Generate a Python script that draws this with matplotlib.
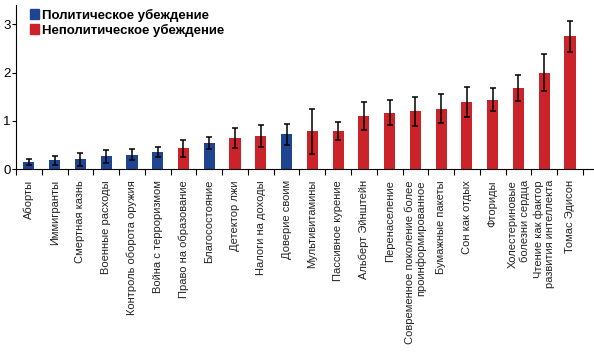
import numpy as np
import matplotlib
matplotlib.use("Agg")
import matplotlib.pyplot as plt
from matplotlib.patches import Patch

plt.rcParams['font.family'] = ['Liberation Sans', 'DejaVu Sans']

# categories, values and error bars
labels = ['Аборты', 'Иммигранты', 'Смертная казнь', 'Военные расходы',
          'Контроль оборота оружия', 'Война с терроризмом', 'Право на образование',
          'Благосостояние', 'Детектор лжи', 'Налоги на доходы', 'Доверие своим',
          'Мультивитамины', 'Пассивное курение', 'Альберт Эйнштейн', 'Перенаселение',
          'Современное поколение более\nпроинформированное', 'Бумажные пакеты',
          'Сон как отдых', 'Фториды', 'Холестериновые\nболезни сердца',
          'Чтение как фактор\nразвития интеллекта', 'Томас Эдисон']
values = [0.15, 0.18, 0.20, 0.26, 0.30, 0.35, 0.43, 0.54, 0.64, 0.68, 0.72,
          0.78, 0.79, 1.09, 1.17, 1.20, 1.25, 1.39, 1.44, 1.67, 2.00, 2.75]
errors = [0.06, 0.09, 0.13, 0.14, 0.12, 0.11, 0.18, 0.13, 0.20, 0.23, 0.22,
          0.47, 0.19, 0.29, 0.26, 0.30, 0.30, 0.32, 0.23, 0.27, 0.39, 0.32]
political = [1, 1, 1, 1, 1, 1, 0, 1, 0, 0, 1,
             0, 0, 0, 0, 0, 0, 0, 0, 0, 0, 0]

blue = '#1f4591'
red = '#cc2229'
colors = [blue if p else red for p in political]

fig = plt.figure(figsize=(5.94, 3.55), dpi=100)
ax = fig.add_axes([16/594, 1 - 169/355, 578/594, 164/355])

x = np.arange(len(labels))
ax.bar(x, values, width=0.43, color=colors, zorder=2)
ax.errorbar(x, values, yerr=errors, fmt='none', ecolor='black',
            elinewidth=1.1, capsize=2.5, capthick=1.1, zorder=3)

ax.set_xlim(-0.5, 21.93)
ax.set_ylim(0, 3.4)
ax.set_yticks([0, 1, 2, 3])
ax.tick_params(axis='y', labelsize=9.5, length=3, width=0.8, pad=1)

ax.set_xticks(x)
ax.set_xticklabels(labels, rotation=90, fontsize=8, color='#222222',
                   va='top', ha='center', multialignment='right')
ax.tick_params(axis='x', length=0, pad=8)
ax.set_xticks(np.arange(-0.5, 21.6, 1), minor=True)
ax.tick_params(axis='x', which='minor', length=4, width=0.8)

for s in ['top', 'right']:
    ax.spines[s].set_visible(False)
ax.spines['left'].set_linewidth(0.8)
ax.spines['bottom'].set_linewidth(0.8)

handles = [Patch(color=blue, label='Политическое убеждение'),
           Patch(color=red, label='Неполитическое убеждение')]
ax.legend(handles=handles, loc='upper left', bbox_to_anchor=(0.015, 1.01),
          frameon=False, prop={'weight': 'bold', 'size': 9.5},
          handlelength=0.7, handleheight=0.7, handletextpad=0.2,
          labelspacing=0.15, borderaxespad=0)

fig.savefig('out.png', dpi=100)
